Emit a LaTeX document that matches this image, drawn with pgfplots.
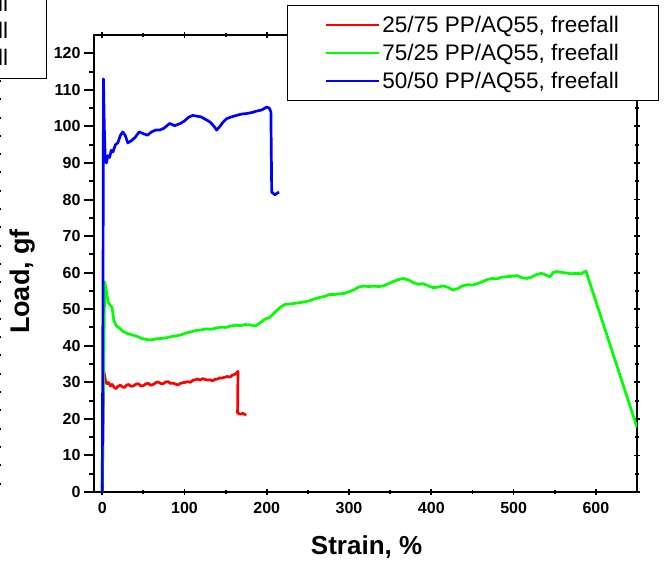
\documentclass[border=0pt]{standalone}
\usepackage{pgfplots}
\pgfplotsset{compat=1.18}
\usepackage{fontspec}
\setmainfont{Liberation Sans}

\pgfplotstableread{
x y
0 0
2 33
4 30.5
6 29.6
8 29.9
10 29.0
12 29.4
15 28.5
17 28.3
19 28.9
22 29.2
25 28.7
27 28.6
30 29.3
32 29.4
35 28.9
38 29.0
41 29.5
44 29.6
47 29.0
50 29.1
53 29.6
56 29.7
59 29.2
62 29.4
65 29.9
68 30.1
71 29.7
74 29.6
77 30.1
80 30.2
83 29.7
86 29.8
89 29.5
92 29.3
95 29.7
98 29.9
101 30.0
104 30.2
107 30.0
110 30.5
113 30.7
116 30.9
119 30.6
122 31.0
125 30.8
128 30.6
131 30.7
134 30.4
137 30.8
140 30.9
143 31.2
146 31.2
149 31.4
152 31.6
155 31.4
158 31.9
161 32.2
163 32.5
165 33.0
164.5 21.6
168 21.3
171 21.5
175 21.0
}\redtab

\pgfplotstableread{
x y
0 0
3 57.5
5 55
7 52
10 51
12 50.5
14 47
17 45.5
21 44.8
25 44.0
30 43.4
36 43.0
42 42.6
48 42.0
54 41.7
60 41.6
66 41.9
72 42.0
78 42.2
84 42.5
90 42.7
96 43.0
102 43.5
108 43.8
114 44.2
120 44.3
126 44.6
132 44.5
138 44.8
144 45.1
150 45.0
156 45.4
162 45.6
168 45.5
174 45.8
180 45.7
186 45.4
192 46.3
198 47.3
204 47.8
210 49.2
216 50.4
222 51.3
228 51.4
234 51.6
240 51.8
246 52.0
252 52.3
258 52.8
264 53.2
270 53.5
276 54.0
282 54.0
288 54.2
294 54.3
300 54.8
306 55.3
312 56.1
318 56.3
324 56.2
330 56.3
336 56.2
342 56.4
348 57.0
354 57.6
360 58.1
366 58.4
372 58.0
378 57.3
384 56.8
390 57.0
396 56.4
402 55.9
408 56.0
414 56.4
420 56.0
426 55.3
432 55.6
438 56.4
444 56.7
450 56.6
456 57.0
462 57.5
468 58.1
474 58.4
480 58.3
486 58.8
492 58.9
498 59.0
504 59.2
510 58.6
516 58.4
522 58.8
528 59.5
534 59.8
540 59.3
544 58.8
548 60.0
552 60.3
558 60.1
564 59.9
570 59.7
576 59.8
582 59.7
588 60.4
650 17.7
}\greentab

\pgfplotstableread{
x y
0 0
1 60
1.5 113
2.5 100
3.5 92
5 90
7 92
9 91.5
11 93.5
13 93
16 95
19 95.5
22 97.5
25 98.5
28 97.5
31 95.5
35 96
40 97
45 98.5
50 98.0
55 97.6
60 98.5
65 99.0
70 99.0
75 99.5
82 100.8
88 100.2
95 100.8
100 101.5
105 102.5
110 103.0
115 102.8
120 102.6
125 102.0
131 101.2
136 100.0
139 99.0
143 100.0
147 101.2
151 102.1
157 102.6
163 103.0
170 103.4
175 103.5
182 103.8
188 104.2
194 104.5
200 105.3
203 105.0
205 104.0
206 82.0
210 81.3
213 81.8
215 82.0
}\bluetab

\begin{document}
\begin{tikzpicture}[x=1pt,y=1pt]
\useasboundingbox (0,0) rectangle (671,565);
% partial box of a neighbouring legend (cut off at the edge)
\draw[line width=0.8pt] (-5,570) rectangle (46,487);
\foreach \yy in {562,535,508}{
  \node[anchor=west, inner sep=0pt, font=\fontsize{22.5}{22.5}\selectfont] at (-2,\yy) {ll};
}
\draw[line width=1.5pt, dash pattern=on 2pt off 16.3pt] (0.5,485) -- (0.5,72);

% axis 2: frame, x ticks and labels, right ticks
\begin{axis}[
  at={(94pt,73pt)}, anchor=south west,
  width=543pt, height=457pt, scale only axis,
  xmin=-10, xmax=650, ymin=0, ymax=125,
  axis line style={line width=2.5pt},
  xtick={0,100,...,600}, minor x tick num=1, xtick pos=both,
  ytick={0,10,...,120}, minor y tick num=1, ytick pos=right, yticklabels={},
  tick align=center, major tick length=6pt, minor tick length=4pt,
  every tick/.style={black, line width=1.8pt},
  /pgf/number format/assume math mode=true,
  tick label style={font=\bfseries\fontsize{16}{16}\selectfont},
  xticklabel style={yshift=-4pt},
  xlabel={Strain, \%},
  xlabel style={at={(axis description cs:0.502,-0.1197)}, anchor=center, font=\bfseries\fontsize{26}{26}\selectfont},
]
\end{axis}

% axis 1: data, y ticks, legend
\begin{axis}[
  at={(94pt,73pt)}, anchor=south west,
  width=543pt, height=457pt, scale only axis,
  xmin=-10, xmax=650, ymin=0, ymax=125,
  axis line style={line width=2.5pt},
  xtick=\empty,
  ytick={0,10,...,120}, minor y tick num=1, ytick pos=left,
  tick align=outside, major tick length=10pt, minor tick length=5pt,
  every tick/.style={black, line width=2pt},
  /pgf/number format/assume math mode=true,
  tick label style={font=\bfseries\fontsize{16}{16}\selectfont},
  ylabel={Load, gf},
  ylabel style={at={(axis description cs:-0.1308,0.4606)}, anchor=center, font=\bfseries\fontsize{27}{27}\selectfont},
  legend cell align=left,
  legend image code/.code={\draw[#1, line width=2pt] (0pt,0pt) -- (53pt,0pt);},
  legend style={at={(axis description cs:0.3554,1.0656)}, anchor=north west,
    draw=black, line width=0.8pt, fill=white,
    inner xsep=38pt, inner ysep=9pt, row sep=6pt,
    nodes={inner sep=2pt},
    font=\fontsize{22.5}{22.5}\selectfont,
    /tikz/every even column/.append style={column sep=4pt}},
]
\addplot[color=red, line width=2.7pt, line join=round] table[x=x,y=y] {\redtab};
\addlegendentry{25/75 PP/AQ55, freefall}
\addplot[color=green, line width=2.7pt, line join=round] table[x=x,y=y] {\greentab};
\addlegendentry{75/25 PP/AQ55, freefall}
\addplot[color=blue, line width=2.7pt, line join=round] table[x=x,y=y] {\bluetab};
\addlegendentry{50/50 PP/AQ55, freefall}
\end{axis}
\end{tikzpicture}
\end{document}
